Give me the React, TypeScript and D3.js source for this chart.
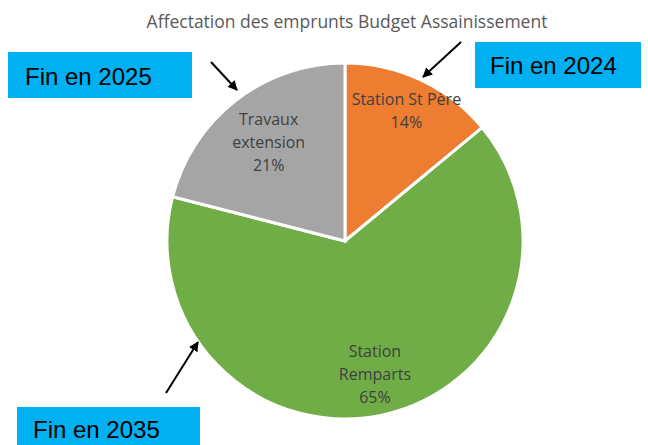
import React from "react";
import * as d3 from "d3";

const categories = ["Station St Père", "Station Remparts", "Travaux extension"];
const labelLines = [["Station St Père"], ["Station", "Remparts"], ["Travaux", "extension"]];
const values = [14, 65, 21];
const colors = ["#ED7D31", "#70AD47", "#A5A5A5"];
const labelRadii = [0.81, 0.77, 0.7];
const title = "Affectation des emprunts Budget Assainissement";
const boxTexts = ["Fin en 2025", "Fin en 2024", "Fin en 2035"];

const W = 648, H = 445;
const cx = 345, cy = 241, R = 178;

export default function App() {
  const total = d3.sum(values);
  const pie = d3.pie<number>().sort(null).value((d) => d)(values);
  const arc = d3.arc<d3.PieArcDatum<number>>().innerRadius(0).outerRadius(R);
  const boxes = [
    { x: 8, y: 52, w: 184, h: 46, tx: 25, ty: 85 },
    { x: 475, y: 42, w: 166, h: 46, tx: 490, ty: 74 },
    { x: 17, y: 407, w: 183, h: 45, tx: 33, ty: 438 },
  ];
  const arrows = [
    [211, 62, 237, 90],
    [461, 42, 423, 77],
    [166, 393, 198, 342],
  ];
  return (
    <svg width={W} height={H} style={{ position: "absolute", left: 0, top: 0 }}>
      <defs>
        <marker id="ah" viewBox="0 0 10 10" refX="9" refY="5" markerWidth="5" markerHeight="5" orient="auto" markerUnits="strokeWidth">
          <path d="M0,0 L10,5 L0,10 z" fill="#000" />
        </marker>
      </defs>
      <rect width={W} height={H} fill="#fff" />
      <text x={347} y={28} textAnchor="middle" fontFamily="'Open Sans', sans-serif" fontSize={17.5} fill="#595959">
        {title}
      </text>
      <g transform={`translate(${cx},${cy})`}>
        {pie.map((p, i) => (
          <path key={i} d={arc(p) || ""} fill={colors[i]} stroke="#fff" strokeWidth={3} strokeLinejoin="miter" />
        ))}
        {pie.map((p, i) => {
          const mid = (p.startAngle + p.endAngle) / 2;
          const r = R * labelRadii[i];
          const x = Math.sin(mid) * r;
          const y = -Math.cos(mid) * r;
          const lines = [...labelLines[i], `${Math.round((values[i] / total) * 100)}%`];
          const lh = 23;
          const y0 = y - ((lines.length - 1) * lh) / 2;
          return (
            <text key={i} textAnchor="middle" fontFamily="'Open Sans', sans-serif" fontSize={16} fill="#404040">
              {lines.map((l, j) => (
                <tspan key={j} x={x} y={y0 + j * lh} dy="0.35em">{l}</tspan>
              ))}
            </text>
          );
        })}
      </g>
      {arrows.map((a, i) => (
        <line key={i} x1={a[0]} y1={a[1]} x2={a[2]} y2={a[3]} stroke="#000" strokeWidth={2} markerEnd="url(#ah)" />
      ))}
      {boxes.map((b, i) => (
        <g key={i}>
          <rect x={b.x} y={b.y} width={b.w} height={b.h} fill="#00B0F0" />
          <text x={b.tx} y={b.ty} fontFamily="'Liberation Sans', Arial, sans-serif" fontSize={24} fill="#000">
            {boxTexts[i]}
          </text>
        </g>
      ))}
    </svg>
  );
}
